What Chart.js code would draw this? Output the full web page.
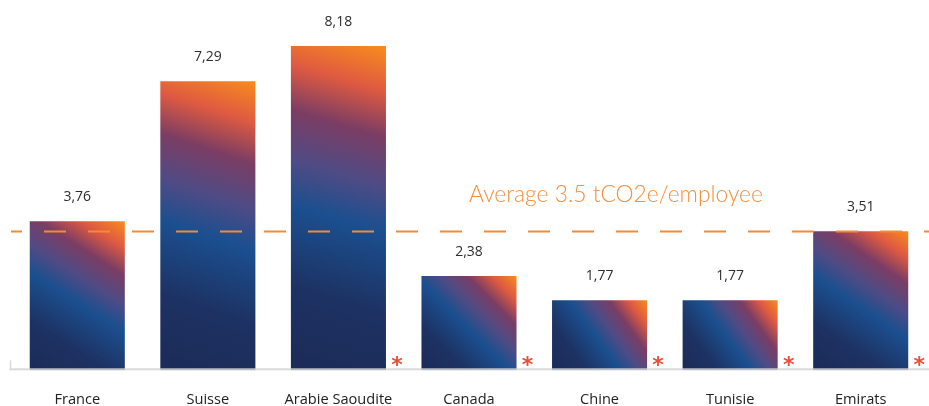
<!DOCTYPE html>
<html>
<head>
<meta charset="utf-8">
<script src="https://cdn.jsdelivr.net/npm/chart.js@4"></script>
<style>
  html, body { margin: 0; padding: 0; background: #ffffff; }
  #wrap { width: 929px; height: 406px; position: relative; }
</style>
</head>
<body>
<div id="wrap"><canvas id="c" width="929" height="406"></canvas></div>
<script>
const categories = ['France', 'Suisse', 'Arabie Saoudite', 'Canada', 'Chine', 'Tunisie', 'Emirats'];
const emissions = [3.76, 7.29, 8.18, 2.38, 1.77, 1.77, 3.51];
const valueLabels = ['3,76', '7,29', '8,18', '2,38', '1,77', '1,77', '3,51'];
const asterisk = [false, false, true, true, true, true, true];
const averageValue = 3.5;
const averageLabel = 'Average 3.5 tCO2e/employee';
const yRange = [0, 9];

const BAR_PCT = 0.728;
const stops = [
  [0.0, '#1c2b58'],
  [0.24, '#1d3263'],
  [0.47, '#1b4f8f'],
  [0.60, '#4f4b85'],
  [0.74, '#7b3d64'],
  [0.87, '#df5a41'],
  [1.0, '#f88c1d']
];

function barGradient(ctx) {
  const chart = ctx.chart;
  if (ctx.type !== 'data' || !chart.chartArea) return '#1b4f8f';
  const xs = chart.scales.x, ys = chart.scales.y;
  const i = ctx.dataIndex;
  const cx = xs.getPixelForValue(i);
  const half = (xs.width / categories.length) * BAR_PCT / 2;
  const top = ys.getPixelForValue(emissions[i]);
  const base = ys.getPixelForValue(0);
  const g = chart.ctx.createLinearGradient(cx - half, base, cx + half, top);
  stops.forEach(s => g.addColorStop(s[0], s[1]));
  return g;
}

const overlay = {
  id: 'overlay',
  afterDatasetsDraw(chart) {
    const c = chart.ctx;
    const xs = chart.scales.x, ys = chart.scales.y;
    const base = ys.getPixelForValue(0);
    const meta = chart.getDatasetMeta(0);
    c.save();
    // baseline
    c.strokeStyle = 'rgba(212,212,212,0.85)';
    c.lineWidth = 2;
    c.beginPath();
    c.moveTo(10, base - 1);
    c.lineTo(chart.width, base - 1);
    c.stroke();
    c.lineWidth = 1.5;
    c.beginPath();
    c.moveTo(10.5, base - 10);
    c.lineTo(10.5, base);
    c.stroke();
    // value labels and asterisks
    meta.data.forEach((bar, i) => {
      c.fillStyle = '#2e2e2e';
      c.font = '14px "Open Sans", sans-serif';
      c.textAlign = 'center';
      c.textBaseline = 'middle';
      c.fillText(valueLabels[i], bar.x, bar.y - 24);
      if (asterisk[i]) {
        c.fillStyle = '#e8503a';
        c.font = 'bold 22px "DejaVu Sans", sans-serif';
        c.fillText('*', bar.x + bar.width / 2 + 11, base - 4);
      }
    });
    // average dashed line
    const ay = ys.getPixelForValue(averageValue);
    c.strokeStyle = '#f58a33';
    c.lineWidth = 2;
    c.setLineDash([22, 22]);
    c.lineDashOffset = 11;
    c.beginPath();
    c.moveTo(11, ay);
    c.lineTo(chart.width, ay);
    c.stroke();
    c.setLineDash([]);
    c.fillStyle = '#f4903e';
    c.font = '300 22.8px Lato, "Open Sans", sans-serif';
    c.textAlign = 'center';
    c.textBaseline = 'middle';
    c.fillText(averageLabel, 616, ay - 37);
    c.restore();
  }
};

new Chart(document.getElementById('c'), {
  type: 'bar',
  data: {
    labels: categories,
    datasets: [{
      data: emissions,
      backgroundColor: barGradient,
      borderWidth: 0,
      barPercentage: BAR_PCT,
      categoryPercentage: 1
    }]
  },
  options: {
    responsive: false,
    animation: false,
    devicePixelRatio: 1,
    layout: { padding: { left: 12, right: 3, top: 13.6, bottom: -23.8 } },
    plugins: { legend: { display: false }, tooltip: { enabled: false } },
    scales: {
      x: {
        grid: { display: false, drawTicks: false },
        border: { display: false },
        ticks: { color: '#222', font: { family: '"Open Sans", sans-serif', size: 14.6 }, padding: 21 }
      },
      y: { display: false, min: yRange[0], max: yRange[1] }
    }
  },
  plugins: [overlay]
});
</script>
</body>
</html>
